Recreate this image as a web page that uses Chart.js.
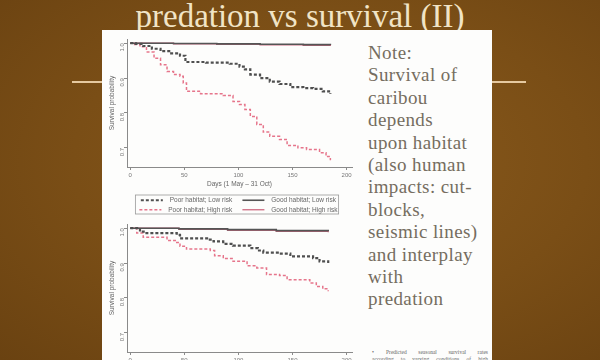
<!DOCTYPE html>
<html>
<head>
<meta charset="utf-8">
<script src="https://cdn.jsdelivr.net/npm/chart.js@4.4.1/dist/chart.umd.min.js"></script>
<style>
  html, body { margin: 0; width: 600px; height: 360px; overflow: hidden; }
  body {
    position: relative;
    background: radial-gradient(ellipse at 55% 45%, #8a5a1c 0%, #7a4e16 55%, #6a4211 100%);
    font-family: "Liberation Serif", serif;
  }
  .title {
    position: absolute; left: 0; width: 600px; top: -4px;
    text-align: center; font-size: 33px; color: #f1e4c6; line-height: 40px;
  }
  .rule { position: absolute; top: 81px; height: 2px; background: #e6c9a0; }
  .panel {
    position: absolute; left: 102px; top: 30px; width: 390px; height: 340px;
    background: #fdfdfc; overflow: hidden;
  }
  .chart { position: absolute; left: 0; width: 258px; }
  .note {
    position: absolute; left: 266px; top: 12px; width: 125px;
    font-size: 19px; line-height: 22.4px; color: #756d60; letter-spacing: 0.4px;
  }
  .caption {
    position: absolute; left: 270px; top: 319px; width: 116px;
    font-size: 5.5px; line-height: 7px; color: #666;
  }
  .caption div { text-align: justify; text-align-last: justify; white-space: nowrap; }
</style>
</head>
<body>
<div class="title">predation vs survival (II)</div>
<div class="rule" style="left:72px;width:30px"></div>
<div class="rule" style="left:492px;width:34px"></div>
<div class="panel">
  <div class="chart" style="top:2px;height:193px"><canvas id="c1"></canvas></div>
  <div class="chart" style="top:188px;height:161px"><canvas id="c2"></canvas></div>
  <div class="note">Note:<br>Survival of<br>caribou<br>depends<br>upon habitat<br>(also human<br>impacts: cut-<br>blocks,<br>seismic lines)<br>and interplay<br>with<br>predation</div>
  <div class="caption">
    <div style="padding-left:14px;position:relative"><span style="position:absolute;left:0">&bull;</span>Predicted seasonal survival rates</div>
    <div>according to varying conditions of high</div>
  </div>
</div>
<script>
// chart (a)
const a_poorLowDays  = [0, 5, 12, 20, 28, 36, 46, 51, 70, 92, 101, 106, 111, 120, 129, 138, 148, 160, 169, 178, 185];
const a_poorLowSurv  = [1.0, 0.998, 0.992, 0.984, 0.977, 0.971, 0.964, 0.946, 0.944, 0.941, 0.933, 0.925, 0.91, 0.9, 0.89, 0.883, 0.874, 0.871, 0.869, 0.862, 0.855];
const a_poorHighDays = [0, 4, 9, 15, 22, 28, 34, 40, 46, 49, 52, 65, 86, 95, 101, 106, 111, 117, 123, 129, 138, 145, 155, 163, 175, 181, 185];
const a_poorHighSurv = [1.0, 0.996, 0.99, 0.975, 0.957, 0.938, 0.919, 0.91, 0.905, 0.886, 0.862, 0.855, 0.85, 0.833, 0.824, 0.81, 0.79, 0.767, 0.745, 0.733, 0.724, 0.707, 0.7, 0.695, 0.686, 0.675, 0.664];
const a_goodLowDays  = [0, 40, 80, 120, 160, 185];
const a_goodLowSurv  = [1.0, 0.999, 0.998, 0.997, 0.996, 0.995];
const a_goodHighDays = [0, 40, 80, 120, 160, 185];
const a_goodHighSurv = [1.0, 0.998, 0.997, 0.995, 0.994, 0.992];

// chart (b)
const b_poorLowDays  = [0, 9, 15, 43, 46, 71, 77, 86, 95, 111, 118, 123, 138, 148, 169, 175, 183];
const b_poorLowSurv  = [1.0, 0.99, 0.986, 0.981, 0.971, 0.967, 0.962, 0.955, 0.95, 0.943, 0.936, 0.93, 0.927, 0.919, 0.914, 0.905, 0.9];
const b_poorHighDays = [0, 6, 12, 34, 43, 46, 52, 74, 78, 86, 95, 108, 117, 126, 138, 145, 166, 172, 178, 183];
const b_poorHighSurv = [1.0, 0.986, 0.974, 0.965, 0.959, 0.948, 0.94, 0.936, 0.921, 0.913, 0.905, 0.892, 0.886, 0.867, 0.864, 0.852, 0.843, 0.833, 0.826, 0.819];
const b_goodLowDays  = [0, 45, 90, 135, 183];
const b_goodLowSurv  = [1.0, 0.998, 0.996, 0.993, 0.991];
const b_goodHighDays = [0, 45, 90, 135, 183];
const b_goodHighSurv = [1.0, 0.997, 0.994, 0.991, 0.988];

const yTicks = [0.7, 0.8, 0.9, 1.0];
const xTicks = [0, 50, 100, 150, 200];
const seriesLabels = ['Poor habitat; Low risk', 'Good habitat; Low risk', 'Poor habitat; High risk', 'Good habitat; High risk'];

const pts = (xs, ys) => xs.map((x, i) => ({ x: x, y: ys[i] }));
const axisGray = '#8a8a8a';
const tickFont = { family: 'Liberation Sans', size: 6 };

function makeDatasets(pl, gl, ph, gh) {
  return [
    { label: seriesLabels[0], data: pl, borderColor: '#4f4f4f', borderWidth: 2.2, borderDash: [3, 2] },
    { label: seriesLabels[1], data: gl, borderColor: '#555555', borderWidth: 1.6 },
    { label: seriesLabels[2], data: ph, borderColor: '#e6758b', borderWidth: 1.5, borderDash: [3, 2] },
    { label: seriesLabels[3], data: gh, borderColor: '#cc6a80', borderWidth: 1.3 }
  ].map(d => Object.assign(d, { stepped: 'before', pointRadius: 0, fill: false }));
}

// legend samples keep the dataset dash and width
function legendLabels(chart) {
  return Chart.defaults.plugins.legend.labels.generateLabels(chart).map(it => {
    const ds = chart.data.datasets[it.datasetIndex];
    return Object.assign(it, {
      text: '  ' + it.text + '    ',
      lineDash: ds.borderDash || [], lineWidth: ds.borderWidth, strokeStyle: ds.borderColor, pointStyle: 'line'
    });
  });
}

const legendShift = 12;
const legendBox = {
  id: 'legendBox',
  afterLayout(chart) {
    const lg = chart.legend;
    if (!lg) return;
    lg.left += legendShift;
    lg.right += legendShift;
    lg.legendHitBoxes.forEach(h => { h.left += legendShift; });
  },
  afterDraw(chart) {
    const boxes = chart.legend && chart.legend.legendHitBoxes;
    if (!boxes || !boxes.length) return;
    let l = Infinity, t = Infinity, r = -Infinity, b = -Infinity;
    boxes.forEach(h => { l = Math.min(l, h.left); t = Math.min(t, h.top); r = Math.max(r, h.left + h.width); b = Math.max(b, h.top + h.height); });
    const ctx = chart.ctx;
    ctx.save();
    ctx.strokeStyle = '#999';
    ctx.lineWidth = 0.8;
    ctx.strokeRect(l - 4, t - 2, r - l - 2, b - t + 3);
    ctx.restore();
  }
};

function makeChart(id, datasets, withLegend, pad) {
  return new Chart(document.getElementById(id), {
    type: 'line',
    data: { datasets: datasets },
    options: {
      responsive: true,
      maintainAspectRatio: false,
      animation: false,
      layout: { padding: pad },
      plugins: {
        tooltip: { enabled: false },
        legend: {
          display: withLegend,
          position: 'bottom',
          labels: {
            usePointStyle: true, pointStyle: 'line', pointStyleWidth: 22,
            boxHeight: 4, padding: 3, color: '#666',
            font: { family: 'Liberation Sans', size: 6.5 },
            generateLabels: legendLabels
          }
        }
      },
      scales: {
        x: {
          type: 'linear', min: -3, max: 205,
          afterBuildTicks: s => { s.ticks = xTicks.map(v => ({ value: v })); },
          afterFit: s => { s.height = 27; },
          grid: { display: true, drawOnChartArea: false, tickLength: 3, color: axisGray },
          border: { color: axisGray },
          ticks: { color: '#777', font: tickFont, padding: 2, maxRotation: 0 },
          title: { display: withLegend, text: 'Days (1 May \u2013 31 Oct)', color: '#666', font: { family: 'Liberation Sans', size: 6.5 }, padding: { top: 1, bottom: 6 } }
        },
        y: {
          min: 0.645, max: 1.012,
          afterBuildTicks: s => { s.ticks = yTicks.map(v => ({ value: v })); },
          afterFit: s => { s.width = 19; },
          grid: { display: true, drawOnChartArea: false, tickLength: 3, color: axisGray },
          border: { color: axisGray },
          ticks: { color: '#777', font: tickFont, padding: 2, minRotation: 90, maxRotation: 90, callback: v => v.toFixed(1) },
          title: { display: true, text: 'Survival probability', color: '#666', font: { family: 'Liberation Sans', size: 6.5 }, padding: 0 }
        }
      }
    },
    plugins: withLegend ? [legendBox] : []
  });
}

makeChart('c1', makeDatasets(pts(a_poorLowDays, a_poorLowSurv), pts(a_goodLowDays, a_goodLowSurv), pts(a_poorHighDays, a_poorHighSurv), pts(a_goodHighDays, a_goodHighSurv)),
  true, { top: 7, right: 8, bottom: 2, left: 6 });
makeChart('c2', makeDatasets(pts(b_poorLowDays, b_poorLowSurv), pts(b_goodLowDays, b_goodLowSurv), pts(b_poorHighDays, b_poorHighSurv), pts(b_goodHighDays, b_goodHighSurv)),
  false, { top: 6, right: 8, bottom: 0, left: 6 });
</script>
</body>
</html>
